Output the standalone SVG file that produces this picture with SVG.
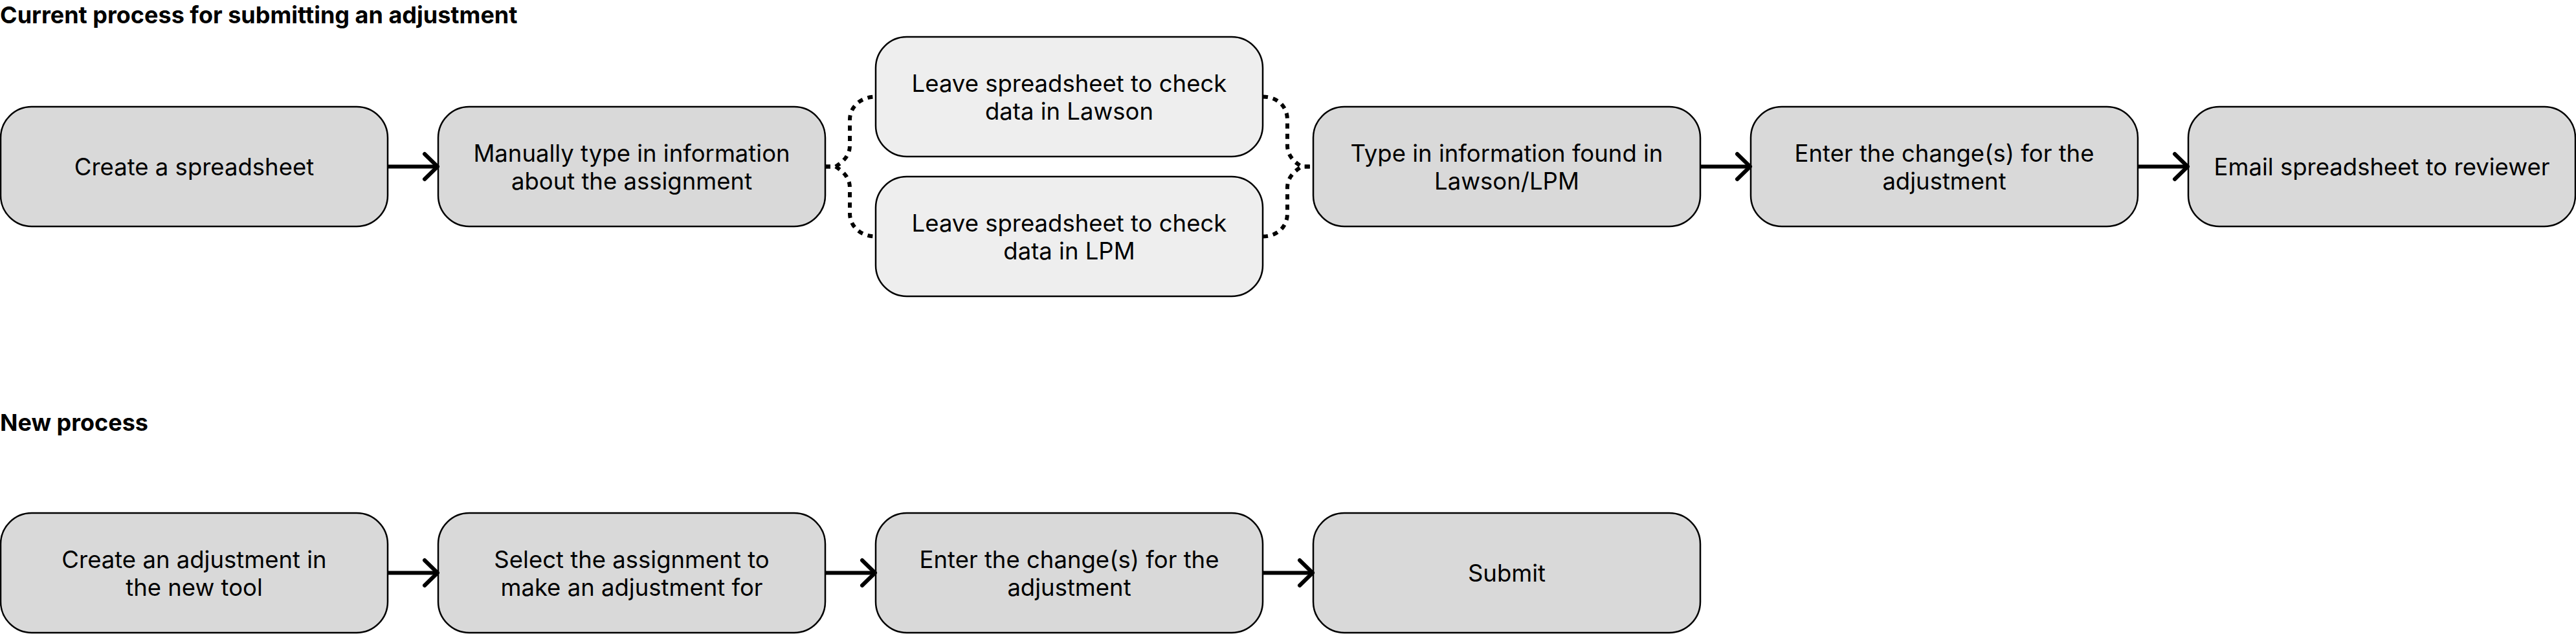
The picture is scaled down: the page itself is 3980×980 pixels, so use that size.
<svg xmlns="http://www.w3.org/2000/svg" width="3980" height="980" viewBox="0 0 3980 980">
<style>
.bg{fill:#ffffff}
.node rect{fill:#d9d9d9;stroke:#000;stroke-width:2.5}
.node.light rect{fill:#eeeeee}
.node text{font-family:Inter,"Liberation Sans",sans-serif;font-size:36.5px;fill:#000;text-anchor:middle}
.title{font-family:Inter,"Liberation Sans",sans-serif;font-size:36px;font-weight:700;fill:#000}
.arrow{fill:none;stroke:#000;stroke-width:6;marker-end:url(#chev)}
.dash{fill:none;stroke:#000;stroke-width:6;stroke-dasharray:8 8}
</style>
<defs>
<marker id="chev" markerUnits="userSpaceOnUse" viewBox="0 0 30 48" markerWidth="30" markerHeight="48" refX="27" refY="24" orient="auto">
<path d="M6,4.5 L26,24 L6,43.5" fill="none" stroke="#000" stroke-width="6" stroke-linecap="round" stroke-linejoin="round"/>
</marker>
</defs>
<rect class="bg" x="0" y="0" width="3980" height="980"/>
<text class="title" x="0" y="36">Current process for submitting an adjustment</text>
<text class="title" x="0" y="666">New process</text>

<g id="n1" class="node"><rect x="1" y="165" width="598" height="185" rx="48"/><text x="300" y="271">Create a spreadsheet</text></g>
<g id="n2" class="node"><rect x="677" y="165" width="598" height="185" rx="48"/><text x="976" y="250">Manually type in information</text><text x="976" y="293">about the assignment</text></g>
<g id="n3" class="node light"><rect x="1353" y="57" width="598" height="185" rx="48"/><text x="1652" y="142">Leave spreadsheet to check</text><text x="1652" y="185">data in Lawson</text></g>
<g id="n4" class="node light"><rect x="1353" y="273" width="598" height="185" rx="48"/><text x="1652" y="358">Leave spreadsheet to check</text><text x="1652" y="401">data in LPM</text></g>
<g id="n5" class="node"><rect x="2029" y="165" width="598" height="185" rx="48"/><text x="2328" y="250">Type in information found in</text><text x="2328" y="293">Lawson/LPM</text></g>
<g id="n6" class="node"><rect x="2705" y="165" width="598" height="185" rx="48"/><text x="3004" y="250">Enter the change(s) for the</text><text x="3004" y="293">adjustment</text></g>
<g id="n7" class="node"><rect x="3381" y="165" width="598" height="185" rx="48"/><text x="3680" y="271">Email spreadsheet to reviewer</text></g>

<g id="m1" class="node"><rect x="1" y="793" width="598" height="185" rx="48"/><text x="300" y="878">Create an adjustment in</text><text x="300" y="921">the new tool</text></g>
<g id="m2" class="node"><rect x="677" y="793" width="598" height="185" rx="48"/><text x="976" y="878">Select the assignment to</text><text x="976" y="921">make an adjustment for</text></g>
<g id="m3" class="node"><rect x="1353" y="793" width="598" height="185" rx="48"/><text x="1652" y="878">Enter the change(s) for the</text><text x="1652" y="921">adjustment</text></g>
<g id="m4" class="node"><rect x="2029" y="793" width="598" height="185" rx="48"/><text x="2328" y="899">Submit</text></g>

<g id="connectors">
<path class="arrow" d="M599,257.5 H677"/>
<path class="arrow" d="M2627,257.5 H2705"/>
<path class="arrow" d="M3303,257.5 H3381"/>
<path class="dash" d="M1275,257.5 H1291 C1303,250 1313,240 1313,225 V185 C1313,165 1330,149.5 1353,149.5"/>
<path class="dash" d="M1275,257.5 H1291 C1303,265 1313,275 1313,290 V330 C1313,350 1330,365.5 1353,365.5"/>
<path class="dash" d="M1951,149.5 C1974,149.5 1989,165 1989,185 V225 C1989,240 1999,250 2011,257.5 H2029"/>
<path class="dash" d="M1951,365.5 C1974,365.5 1989,350 1989,330 V290 C1989,275 1999,265 2011,257.5 H2029"/>
<path class="arrow" d="M599,885.5 H677"/>
<path class="arrow" d="M1275,885.5 H1353"/>
<path class="arrow" d="M1951,885.5 H2029"/>
</g>
</svg>
